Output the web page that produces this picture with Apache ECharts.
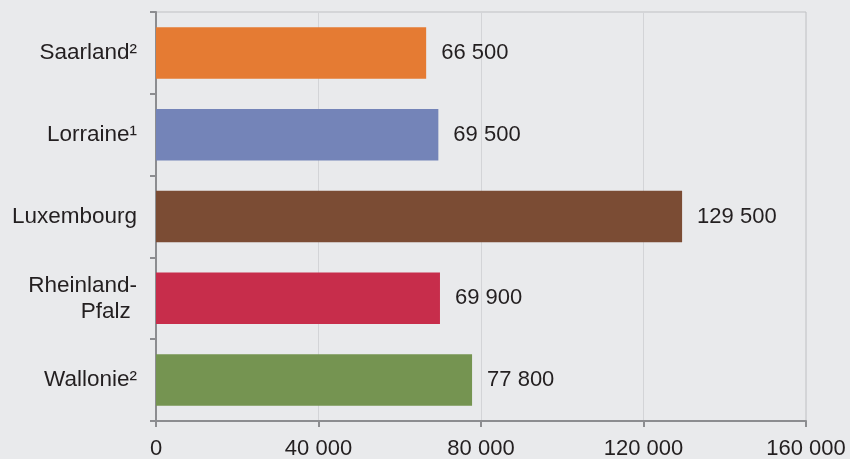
<!DOCTYPE html>
<html>
<head>
<meta charset="utf-8">
<script src="https://cdn.jsdelivr.net/npm/echarts@6/dist/echarts.min.js"></script>
<style>
  html, body { margin: 0; padding: 0; background: #e9eaec; }
  #chart { width: 850px; height: 459px; }
</style>
</head>
<body>
<div id="chart"></div>
<script>
// regions, top to bottom
const regions = ['Saarland²', 'Lorraine¹', 'Luxembourg', 'Rheinland-\nPfalz ', 'Wallonie²']
const values = [66500, 69500, 129500, 69900, 77800]
const barColors = ['#e57b33', '#7484b8', '#7b4c34', '#c72d4b', '#759451']
const xTicks = [0, 40000, 80000, 120000, 160000]

const fmt = v => String(v).replace(/\B(?=(\d{3})+(?!\d))/g, ' ')
const font = '"Liberation Sans", Arial, Helvetica, sans-serif'

const chart = echarts.init(document.getElementById('chart'))
chart.setOption({
  backgroundColor: '#e9eaec',
  animation: false,
  grid: {
    left: 156,
    right: 44,
    top: 12,
    bottom: 38,
    containLabel: false,
    outerBoundsMode: 'none',
    show: true,
    borderColor: '#bfc0c3',
    borderWidth: 1
  },
  xAxis: {
    type: 'value',
    min: xTicks[0],
    max: xTicks[xTicks.length - 1],
    interval: 40000,
    axisLine: { show: true, lineStyle: { color: '#8c8d90', width: 2 } },
    axisTick: { show: true, length: 6, lineStyle: { color: '#8c8d90', width: 2 } },
    axisLabel: {
      margin: 17,
      color: '#231f20',
      fontSize: 22,
      fontFamily: font,
      formatter: v => fmt(v)
    },
    splitLine: { show: true, lineStyle: { color: '#d3d4d7', width: 1 } }
  },
  yAxis: {
    type: 'category',
    inverse: true,
    data: regions,
    axisLine: { show: true, lineStyle: { color: '#8c8d90', width: 2 } },
    axisTick: { show: true, length: 6, lineStyle: { color: '#8c8d90', width: 2 } },
    axisLabel: {
      margin: 19,
      color: '#231f20',
      fontSize: 22.5,
      lineHeight: 26,
      fontFamily: font
    }
  },
  series: [
    {
      type: 'bar',
      barWidth: '63%',
      data: values.map((v, i) => ({ value: v, itemStyle: { color: barColors[i] } })),
      label: {
        show: true,
        position: 'right',
        distance: 15,
        color: '#231f20',
        fontSize: 22,
        fontFamily: font,
        formatter: p => fmt(p.value)
      }
    }
  ]
})
</script>
</body>
</html>
